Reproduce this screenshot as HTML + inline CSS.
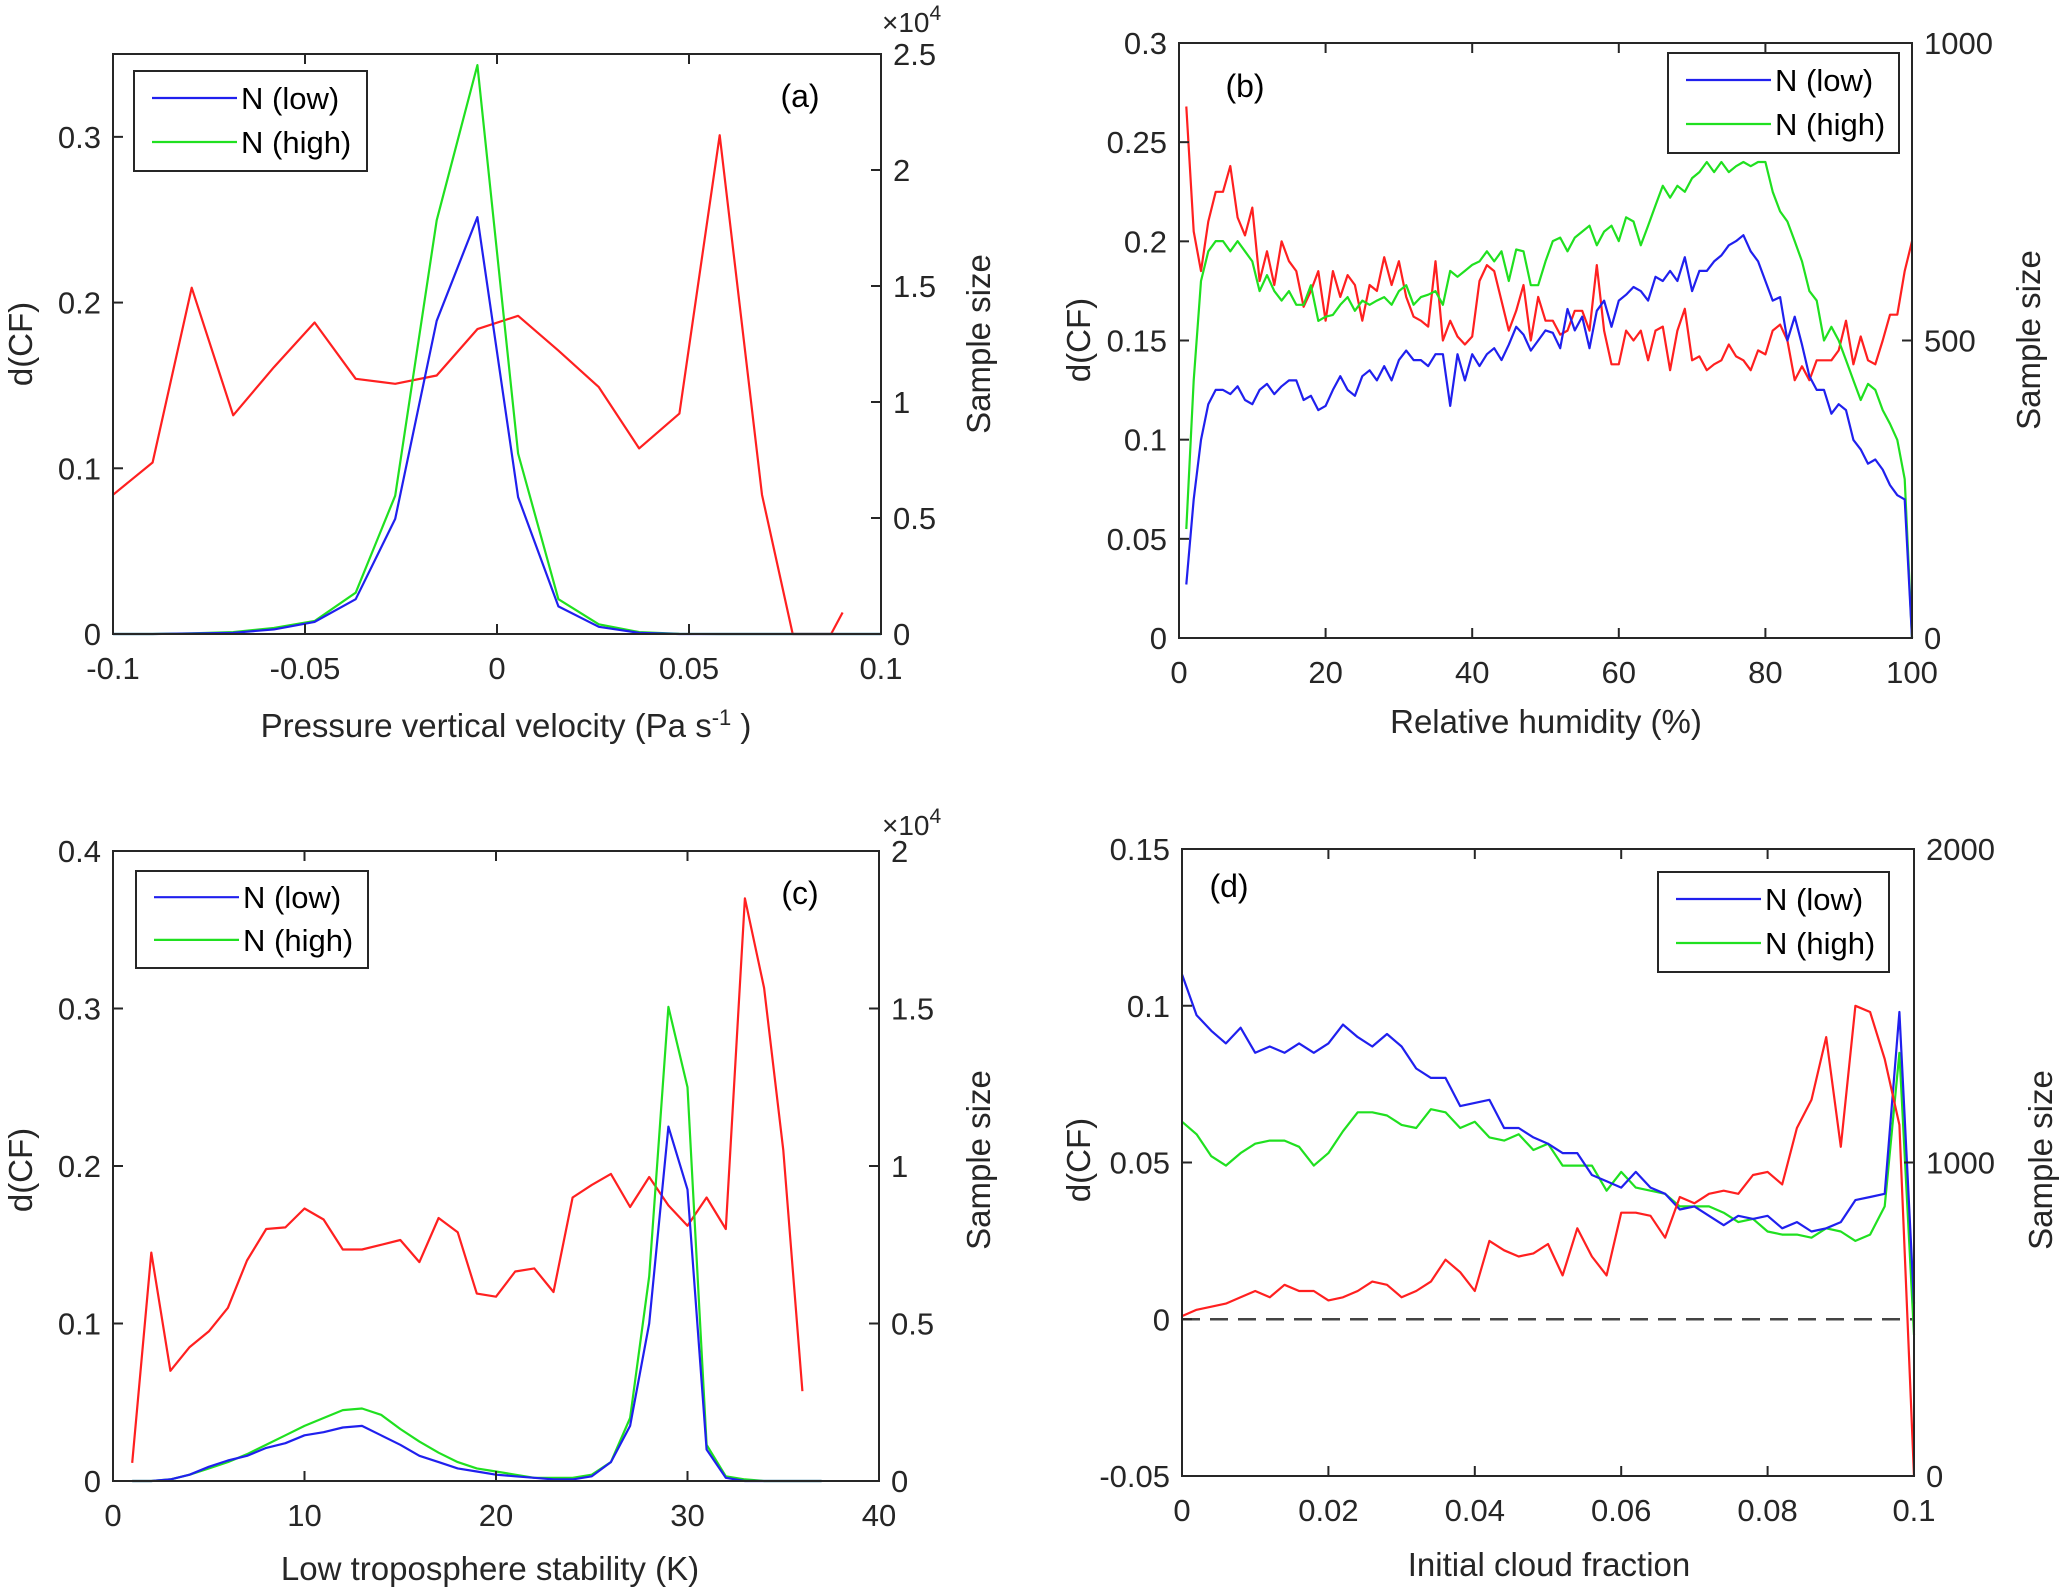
<!DOCTYPE html>
<html><head><meta charset="utf-8"><style>
html,body{margin:0;padding:0;background:#fff;}
svg{display:block;font-family:"Liberation Sans",Arial,sans-serif;}
</style></head><body>
<svg id="fig" width="2066" height="1592" viewBox="0 0 2066 1592" xmlns="http://www.w3.org/2000/svg"></svg>
<script>
// ---- Panel (a) data ----
const aX = [-0.1,-0.0897,-0.0795,-0.0687,-0.0581,-0.0475,-0.0368,-0.0265,-0.0157,-0.0051,0.0055,0.016,0.0265,0.037,0.0475,0.058,0.069,0.077,0.087,0.090];
const aRed = [0.084,0.1035,0.209,0.132,0.161,0.188,0.154,0.151,0.156,0.184,0.192,0.171,0.149,0.112,0.133,0.301,0.084,0,0,0.013];
const aXN = [-0.1,-0.0897,-0.0795,-0.0687,-0.0581,-0.0475,-0.0368,-0.0265,-0.0157,-0.0051,0.0055,0.016,0.0265,0.037,0.0475,0.058,0.069,0.08,0.09,0.1];
const aLow = [0,0,20,50,200,520,1500,4960,13500,17970,5900,1190,310,50,0,0,0,0,0,0];
const aHigh = [0,0,30,80,260,560,1780,5960,17830,24520,7780,1500,420,80,10,0,0,0,0,0];
const aXTicks = [-0.1,-0.05,0,0.05,0.1];
const aXTickLabels = ["-0.1","-0.05","0","0.05","0.1"];
const aYTicks = [0,0.1,0.2,0.3];
const aYTickLabels = ["0","0.1","0.2","0.3"];
const aRTicks = [0,5000,10000,15000,20000,25000];
const aRTickLabels = ["0","0.5","1","1.5","2","2.5"];

// ---- Panel (b) data ----
const bRed = [0.268,0.205,0.185,0.21,0.225,0.225,0.238,0.212,0.203,0.217,0.18,0.195,0.178,0.2,0.19,0.185,0.167,0.175,0.185,0.16,0.185,0.172,0.183,0.178,0.16,0.178,0.175,0.192,0.178,0.19,0.172,0.162,0.16,0.157,0.19,0.15,0.16,0.152,0.148,0.152,0.18,0.188,0.185,0.17,0.155,0.165,0.178,0.15,0.172,0.16,0.16,0.153,0.155,0.165,0.165,0.155,0.188,0.155,0.138,0.138,0.155,0.15,0.155,0.14,0.155,0.157,0.135,0.155,0.166,0.14,0.142,0.135,0.138,0.14,0.148,0.142,0.14,0.135,0.145,0.143,0.155,0.158,0.15,0.13,0.137,0.13,0.14,0.14,0.14,0.145,0.16,0.138,0.152,0.14,0.138,0.15,0.163,0.163,0.185,0.2];
const bLow = [90,233,333,393,417,417,410,423,400,393,417,427,410,423,433,433,400,407,383,390,417,440,417,407,440,450,433,457,433,467,483,467,467,457,477,477,390,477,433,477,457,477,487,467,493,523,510,483,500,517,513,487,553,517,540,487,550,567,523,567,577,590,583,567,607,600,617,600,640,583,617,617,633,643,660,667,677,650,633,600,567,573,500,540,493,440,417,417,377,393,383,333,317,293,300,283,257,240,233,0];
const bHigh = [183,433,600,650,667,667,650,667,650,633,583,610,583,567,583,560,560,593,533,540,543,560,573,550,567,560,567,573,560,583,593,560,573,577,583,560,617,607,617,627,633,650,633,650,600,653,650,593,593,633,667,673,650,673,683,693,660,683,693,667,707,700,660,693,727,760,740,760,750,773,783,800,783,800,783,793,800,793,800,800,750,717,700,667,633,583,567,500,523,500,467,433,400,427,417,383,360,333,267,0];
const bXTicks = [0,20,40,60,80,100];
const bXTickLabels = ["0","20","40","60","80","100"];
const bYTicks = [0,0.05,0.1,0.15,0.2,0.25,0.3];
const bYTickLabels = ["0","0.05","0.1","0.15","0.2","0.25","0.3"];
const bRTicks = [0,500,1000];
const bRTickLabels = ["0","500","1000"];

// ---- Panel (c) data ----
const cRed = [0.0115,0.145,0.07,0.085,0.095,0.11,0.14,0.16,0.161,0.173,0.166,0.147,0.147,0.15,0.153,0.139,0.167,0.158,0.119,0.117,0.133,0.135,0.12,0.18,0.188,0.195,0.174,0.193,0.175,0.162,0.18,0.16,0.37,0.313,0.21,0.057];
const cLow = [0,0,50,200,450,650,800,1050,1200,1450,1550,1700,1750,1450,1150,800,600,400,300,200,150,100,50,50,150,600,1750,5000,11250,9250,1000,100,0,0,0,0,0];
const cHigh = [0,0,50,200,400,600,850,1150,1450,1750,2000,2250,2300,2100,1650,1250,900,600,400,300,200,100,100,100,200,600,2000,6500,15050,12500,1150,150,50,0,0,0,0];
const cXTicks = [0,10,20,30,40];
const cXTickLabels = ["0","10","20","30","40"];
const cYTicks = [0,0.1,0.2,0.3,0.4];
const cYTickLabels = ["0","0.1","0.2","0.3","0.4"];
const cRTicks = [0,5000,10000,15000,20000];
const cRTickLabels = ["0","0.5","1","1.5","2"];

// ---- Panel (d) data ----
const dRed = [0.001,0.003,0.004,0.005,0.007,0.009,0.007,0.011,0.009,0.009,0.006,0.007,0.009,0.012,0.011,0.007,0.009,0.012,0.019,0.015,0.009,0.025,0.022,0.020,0.021,0.024,0.014,0.029,0.020,0.014,0.034,0.034,0.033,0.026,0.039,0.037,0.040,0.041,0.040,0.046,0.047,0.043,0.061,0.070,0.090,0.055,0.100,0.098,0.083,0.062,-0.05];
const dLow = [1600,1470,1420,1380,1430,1350,1370,1350,1380,1350,1380,1440,1400,1370,1410,1370,1300,1270,1270,1180,1190,1200,1110,1110,1080,1060,1030,1030,960,940,920,970,920,900,850,860,830,800,830,820,830,790,810,780,790,810,880,890,900,1480,550];
const dHigh = [1130,1090,1020,990,1030,1060,1070,1070,1050,990,1030,1100,1160,1160,1150,1120,1110,1170,1160,1110,1130,1080,1070,1090,1040,1060,990,990,990,910,970,920,910,900,860,860,860,840,810,820,780,770,770,760,790,780,750,770,860,1350,450];
const dXTicks = [0,0.02,0.04,0.06,0.08,0.1];
const dXTickLabels = ["0","0.02","0.04","0.06","0.08","0.1"];
const dYTicks = [-0.05,0,0.05,0.1,0.15];
const dYTickLabels = ["-0.05","0","0.05","0.1","0.15"];
const dRTicks = [0,1000,2000];
const dRTickLabels = ["0","1000","2000"];

const NS = "http://www.w3.org/2000/svg";
const svg = document.getElementById("fig");
const TXT = "#262626";

function mk(tag, parent) { const e = document.createElementNS(NS, tag); parent.appendChild(e); return e; }
function txt(parent, x, y, s, size, anchor, extra) {
  const t = mk("text", parent);
  t.setAttribute("x", x); t.setAttribute("y", y);
  t.setAttribute("font-size", size); t.setAttribute("fill", TXT);
  t.setAttribute("text-anchor", anchor || "middle");
  if (extra) t.setAttribute("transform", extra);
  t.textContent = s;
  return t;
}
function line(parent, x1, y1, x2, y2, col, w, dash) {
  const l = mk("line", parent);
  l.setAttribute("x1", x1); l.setAttribute("y1", y1); l.setAttribute("x2", x2); l.setAttribute("y2", y2);
  l.setAttribute("stroke", col); l.setAttribute("stroke-width", w);
  if (dash) l.setAttribute("stroke-dasharray", dash);
  return l;
}
function poly(parent, xs, ys, fx, fy, col) {
  const p = mk("polyline", parent);
  p.setAttribute("points", xs.map((x, i) => fx(x).toFixed(1) + "," + fy(ys[i]).toFixed(1)).join(" "));
  p.setAttribute("fill", "none"); p.setAttribute("stroke", col); p.setAttribute("stroke-width", 2.2);
  p.setAttribute("stroke-linejoin", "round");
  return p;
}

function panel(cfg) {
  const g = mk("g", svg);
  
  
  const {L, R, T, B} = cfg;
  const fx = v => L + (v - cfg.xmin) / (cfg.xmax - cfg.xmin) * (R - L);
  const fy = v => B - (v - cfg.ymin) / (cfg.ymax - cfg.ymin) * (B - T);
  const fr = v => B - (v - 0) / (cfg.rmax) * (B - T);

  const sg = mk("g", g);
  
  
  if (cfg.dash) {
    const z = line(sg, L, fy(0), R, fy(0), "#444", 2.5, "18,10");
    
    
  }
  const pr = poly(sg, cfg.xr, cfg.red, fx, fy, "#ff2020");
  
  
  const pg = poly(sg, cfg.xn, cfg.high, fx, fr, "#20e020");
  
  
  const pb = poly(sg, cfg.xn, cfg.low, fx, fr, "#2020ee");
  
  
  if (cfg.redOnTop) sg.appendChild(pr);

  const box = mk("rect", g);
  box.setAttribute("x", L); box.setAttribute("y", T); box.setAttribute("width", R - L); box.setAttribute("height", B - T);
  box.setAttribute("fill", "none"); box.setAttribute("stroke", TXT); box.setAttribute("stroke-width", 2);
  
  

  cfg.xt.forEach((v, i) => {
    const x = fx(v);
    line(g, x, B, x, B - 10, TXT, 2);
    line(g, x, T, x, T + 10, TXT, 2);
    const t = txt(g, x, B + 45, cfg.xtl[i], 31);
    
    
  });
  cfg.yt.forEach((v, i) => {
    const y = fy(v);
    line(g, L, y, L + 10, y, TXT, 2);
    const t = txt(g, L - 12, y + 11, cfg.ytl[i], 31, "end");
    
    
  });
  cfg.rt.forEach((v, i) => {
    const y = fr(v);
    line(g, R, y, R - 10, y, TXT, 2);
    const t = txt(g, R + 12, y + 11, cfg.rtl[i], 31, "start");
    
    
  });
  if (cfg.exp) {
    const e = txt(g, cfg.exp[0], cfg.exp[1], "×10", 28, "start");
    const s = mk("tspan", e); s.setAttribute("dy", -12); s.setAttribute("font-size", 21); s.textContent = "4";
    
    
  }
  const xl = txt(g, cfg.xlab[0], cfg.xlab[1], cfg.xlabel, 33);
  if (cfg.sup) {
    const s = mk("tspan", xl); s.setAttribute("dy", -12); s.setAttribute("font-size", 22); s.textContent = "-1";
    const s2 = mk("tspan", xl); s2.setAttribute("dy", 12); s2.textContent = " )";
  }
  
  
  const yl = txt(g, cfg.ylab[0], cfg.ylab[1], "d(CF)", 33, "middle", `rotate(-90 ${cfg.ylab[0]} ${cfg.ylab[1]})`);
  
  
  const rl = txt(g, cfg.rlab[0], cfg.rlab[1], "Sample size", 33, "middle", `rotate(-90 ${cfg.rlab[0]} ${cfg.rlab[1]})`);
  
  
  const pl = txt(g, cfg.plab[0], cfg.plab[1], cfg.ptext, 32, "middle");
  pl.setAttribute("fill", "#000");
  
  

  const [lx, ly, lw, lh] = cfg.leg;
  const lg = mk("g", g);
  
  
  const lr = mk("rect", lg);
  lr.setAttribute("x", lx); lr.setAttribute("y", ly); lr.setAttribute("width", lw); lr.setAttribute("height", lh);
  lr.setAttribute("fill", "#fff"); lr.setAttribute("stroke", TXT); lr.setAttribute("stroke-width", 2);
  const e1 = mk("g", lg);
  
  
  line(e1, lx + 18, ly + lh * 0.27, lx + 103, ly + lh * 0.27, "#2020ee", 2.2);
  const t1 = txt(e1, lx + 107, ly + lh * 0.27 + 11, "N (low)", 31, "start"); t1.setAttribute("fill", "#000");
  const e2 = mk("g", lg);
  
  
  line(e2, lx + 18, ly + lh * 0.71, lx + 103, ly + lh * 0.71, "#20e020", 2.2);
  const t2 = txt(e2, lx + 107, ly + lh * 0.71 + 11, "N (high)", 31, "start"); t2.setAttribute("fill", "#000");
}

const idx = (n, a, s) => Array.from({length: n}, (_, i) => +(a + i * s).toFixed(4));

panel({name: "panel-a", L: 113, R: 881, T: 54, B: 634, xmin: -0.1, xmax: 0.1, ymin: 0, ymax: 0.35, rmax: 25000,
  xr: aX, red: aRed, xn: aXN, low: aLow, high: aHigh,
  xt: aXTicks, xtl: aXTickLabels, yt: aYTicks, ytl: aYTickLabels, rt: aRTicks, rtl: aRTickLabels,
  exp: [882, 32], xlabel: "Pressure vertical velocity (Pa s", sup: true, xlab: [506, 737], ylab: [32, 344], rlab: [990, 344],
  plab: [800, 107], ptext: "(a)", leg: [134, 71, 233, 100]});

panel({name: "panel-b", L: 1179, R: 1912, T: 43, B: 638, xmin: 0, xmax: 100, ymin: 0, ymax: 0.3, rmax: 1000,
  xr: idx(100, 1, 1), red: bRed, xn: idx(100, 1, 1), low: bLow, high: bHigh,
  xt: bXTicks, xtl: bXTickLabels, yt: bYTicks, ytl: bYTickLabels, rt: bRTicks, rtl: bRTickLabels,
  xlabel: "Relative humidity (%)", xlab: [1546, 733], ylab: [1090, 340], rlab: [2040, 340],
  plab: [1245, 97], ptext: "(b)", leg: [1668, 53, 231, 100]});

panel({name: "panel-c", L: 113, R: 879, T: 851, B: 1481, xmin: 0, xmax: 40, ymin: 0, ymax: 0.4, rmax: 20000,
  xr: idx(36, 1, 1), red: cRed, xn: idx(37, 1, 1), low: cLow, high: cHigh,
  xt: cXTicks, xtl: cXTickLabels, yt: cYTicks, ytl: cYTickLabels, rt: cRTicks, rtl: cRTickLabels,
  exp: [882, 835], xlabel: "Low troposphere stability (K)", xlab: [490, 1580], ylab: [32, 1170], rlab: [990, 1160],
  plab: [800, 904], ptext: "(c)", leg: [136, 871, 232, 97]});

panel({name: "panel-d", L: 1182, R: 1914, T: 849, B: 1476, xmin: 0, xmax: 0.1, ymin: -0.05, ymax: 0.15, rmax: 2000,
  xr: idx(51, 0, 0.002), red: dRed, xn: idx(51, 0, 0.002), low: dLow, high: dHigh, dash: true, redOnTop: true,
  xt: dXTicks, xtl: dXTickLabels, yt: dYTicks, ytl: dYTickLabels, rt: dRTicks, rtl: dRTickLabels,
  xlabel: "Initial cloud fraction", xlab: [1549, 1576], ylab: [1090, 1160], rlab: [2052, 1160],
  plab: [1229, 897], ptext: "(d)", leg: [1658, 872, 231, 100]});
</script>
</body></html>
